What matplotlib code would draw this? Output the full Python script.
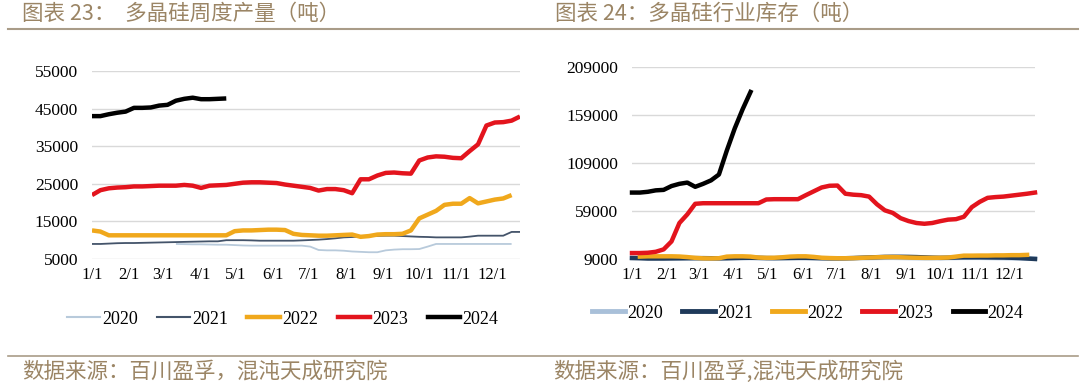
import numpy as np
import matplotlib.pyplot as plt
from matplotlib.lines import Line2D

nan = np.nan

# x tick labels (month starts) and their day-of-year
month_labels = ['1/1', '2/1', '3/1', '4/1', '5/1', '6/1', '7/1', '8/1', '9/1', '10/1', '11/1', '12/1']
month_doy = [0, 31, 59, 90, 120, 151, 181, 212, 243, 273, 304, 334]
years = ['2020', '2021', '2022', '2023', '2024']

# ---- chart 23: weekly output (t) ----
prod_2020 = [nan] * 10 + [9000, 8950, 8900, 8900, 8850, 8800, 8800, 8700, 8600, 8550,
                          8550, 8550, 8550, 8550, 8550, 8550, 8300, 7400, 7300, 7300,
                          7200, 7000, 6900, 6800, 6800, 7300, 7500, 7600, 7600, 7650,
                          8300, 9000, 9000, 9000, 9000, 9000, 9000, 9000, 9000, 9000, 9000]
prod_2021 = [9000, 9000, 9100, 9200, 9250, 9250, 9300, 9350, 9400, 9450,
             9500, 9550, 9600, 9650, 9700, 9700, 10000, 10000, 10000, 9950,
             9870, 9870, 9870, 9870, 9870, 9950, 10050, 10150, 10300, 10500,
             10750, 10850, 10950, 11050, 11150, 11200, 11200, 11100, 11000, 10900,
             10850, 10750, 10750, 10750, 10750, 10950, 11200, 11200, 11200, 11200,
             12200, 12200]
prod_2022 = [12600, 12300, 11300, 11300, 11300, 11300, 11300, 11300, 11300, 11300,
             11300, 11300, 11300, 11300, 11300, 11300, 11300, 12400, 12600, 12600,
             12700, 12800, 12800, 12700, 11700, 11400, 11300, 11200, 11200, 11300,
             11400, 11500, 10900, 11100, 11500, 11600, 11600, 11700, 12600, 15800,
             16800, 17800, 19400, 19700, 19700, 21200, 19800, 20300, 20800, 21100,
             22000]
prod_2023 = [22000, 23300, 23800, 24000, 24100, 24300, 24300, 24400, 24500, 24500,
             24500, 24700, 24500, 23900, 24500, 24600, 24700, 25000, 25300, 25400,
             25400, 25300, 25200, 24800, 24500, 24200, 23900, 23200, 23600, 23600,
             23300, 22500, 26200, 26200, 27200, 27900, 28000, 27800, 27700, 31200,
             32000, 32300, 32200, 31900, 31800, 33700, 35500, 40500, 41300, 41400,
             41800, 42900]
prod_2024 = [43000, 43000, 43500, 43900, 44200, 45200, 45200, 45300, 45800, 46000,
             47100, 47600, 47900, 47500, 47500, 47600, 47700]

# ---- chart 24: industry inventory (t) ----
inv_2020 = [10200, 10200, 10100, 10000, 10000, 10000, 9900, 9900, 9800, 9800,
            9800, 9800, 9900, 10000, 10000, 10000, 9900, 9800, 9800, 9800,
            9900, 10000, 10000, 10000, 9900, 9800, 9700, 9700, 9800, 9900,
            10000, 10100, 10200, 10200, 10100, 10000, 9900, 9800, 9800, 9900,
            10000, 10100, 10200, 10200, 10200, 10100, 10000, 9900, 9800, 9700,
            9600, 9500]
inv_2021 = [10000, 9800, 9500, 9500, 9500, 9600, 9700, 9800, 9900, 9900,
            9800, 9700, 9800, 10000, 10200, 10300, 10200, 10000, 9900, 10000,
            10100, 10200, 10200, 10000, 9800, 9700, 9700, 9800, 10000, 10300,
            10600, 10900, 11200, 11300, 11300, 11200, 11000, 10700, 10400, 10200,
            10300, 10600, 10800, 10800, 10800, 10700, 10600, 10500, 10300, 10000,
            9500, 9000]
inv_2022 = [nan, 11500, 11800, 11800, 11800, 11800, 11600, 11000, 10200, 9700,
            9600, 9800, 11500, 11800, 11800, 11500, 10500, 10200, 10300, 10800,
            11500, 11800, 11800, 11200, 10300, 10000, 9800, 9800, 9900, 10200,
            10500, 10800, 11000, 11000, 10800, 10500, 10300, 10200, 10200, 10300,
            10500, 11500, 12500, 12500, 12600, 12600, 12800, 12800, 13000, 13000,
            13300]
inv_2023 = [15200, 15200, 15500, 16500, 19000, 27300, 46500, 55500, 66500, 67100,
            67100, 67100, 67100, 67100, 67100, 67100, 67100, 71000, 71300, 71300,
            71300, 71300, 75500, 79500, 83500, 85300, 85500, 77000, 76000, 75500,
            74000, 66000, 59700, 57000, 51500, 48500, 46500, 45700, 46500, 48400,
            50000, 50500, 53000, 63000, 68500, 72700, 73500, 74000, 75000, 76000,
            77000, 78200]
inv_2024 = [78200, 78200, 79000, 80500, 81000, 85000, 87300, 88600, 84200, 87300,
            90900, 97000, 122000, 145000, 165000, 183000]

title_color = '#9b8565'
rule_color = '#a99c88'
grid_color = '#d9d9d9'
serif = 'Liberation Serif'
cjk = ['Noto Sans CJK SC', 'DejaVu Sans']

fig = plt.figure(figsize=(10.8, 3.85), dpi=100, facecolor='white')

ax1 = fig.add_axes([92 / 1080, 1 - 259 / 385, 428 / 1080, 188 / 385])
ax2 = fig.add_axes([632 / 1080, 1 - 259 / 385, 403 / 1080, 192 / 385])

ticks = [d / 7 for d in month_doy]


def style_axis(ax, yticks):
    ax.set_xlim(0, 51)
    ax.set_ylim(yticks[0], yticks[-1])
    ax.set_yticks(yticks)
    ax.set_yticklabels([str(v) for v in yticks], fontfamily=serif, fontsize=12.5)
    ax.set_xticks(ticks)
    ax.set_xticklabels(month_labels, fontfamily=serif, fontsize=12)
    ax.tick_params(length=0, pad=6)
    ax.tick_params(axis='y', pad=10)
    for s in ax.spines.values():
        s.set_visible(False)
    ax.grid(axis='y', color=grid_color, linewidth=1)
    ax.set_axisbelow(True)


# chart 23
c1 = ['#b8cadb', '#44546a', '#f0a81c', '#e3141d', '#000000']
w1 = [1.3, 1.3, 3.2, 3.2, 3.2]
for vals, col, lw in zip([prod_2020, prod_2021, prod_2022, prod_2023, prod_2024], c1, w1):
    ax1.plot(np.arange(len(vals)), vals, color=col, linewidth=lw, solid_capstyle='butt')
style_axis(ax1, [5000, 15000, 25000, 35000, 45000, 55000])

# chart 24
c2 = ['#a9c0d9', '#1f3a5a', '#f0a81c', '#e3141d', '#000000']
for vals, col in zip([inv_2020, inv_2021, inv_2022, inv_2023, inv_2024], c2):
    ax2.plot(np.arange(len(vals)), vals, color=col, linewidth=3.2, clip_on=False)
style_axis(ax2, [9000, 59000, 109000, 159000, 209000])

# legends
leg_kw = dict(loc='center', ncol=5, frameon=False, prop={'family': serif, 'size': 13},
              handlelength=1.8, handletextpad=0.15, columnspacing=1.05)
h1 = [Line2D([], [], color=c, lw=w if w > 2 else 1.5) for c, w in zip(c1, w1)]
fig.legend(h1, years, bbox_to_anchor=(283 / 1080, 1 - 319 / 385), **leg_kw)
h2 = [Line2D([], [], color=c, lw=3.5) for c in c2]
fig.legend(h2, years, bbox_to_anchor=(808 / 1080, 1 - 313 / 385), **leg_kw)

# titles, rules, sources
fig.text(22 / 1080, 1 - 14 / 385, '图表 23：  多晶硅周度产量（吨）', family=cjk, fontsize=15.5,
         color=title_color, va='center', ha='left')
fig.text(555 / 1080, 1 - 14 / 385, '图表 24：多晶硅行业库存（吨）', family=cjk, fontsize=15.5,
         color=title_color, va='center', ha='left')
fig.add_artist(Line2D([8 / 1080, 1078 / 1080], [1 - 29 / 385] * 2, color=rule_color, lw=1.5))
fig.add_artist(Line2D([8 / 1080, 1078 / 1080], [1 - 356 / 385] * 2, color=rule_color, lw=1.2))
fig.text(22 / 1080, 1 - 372 / 385, '数据来源：百川盈孚，混沌天成研究院', family=cjk, fontsize=15.5,
         color=title_color, va='center', ha='left')
fig.text(553 / 1080, 1 - 372 / 385, '数据来源：百川盈孚,混沌天成研究院', family=cjk, fontsize=15.5,
         color=title_color, va='center', ha='left')

fig.savefig('out.png', dpi=100, facecolor='white')
